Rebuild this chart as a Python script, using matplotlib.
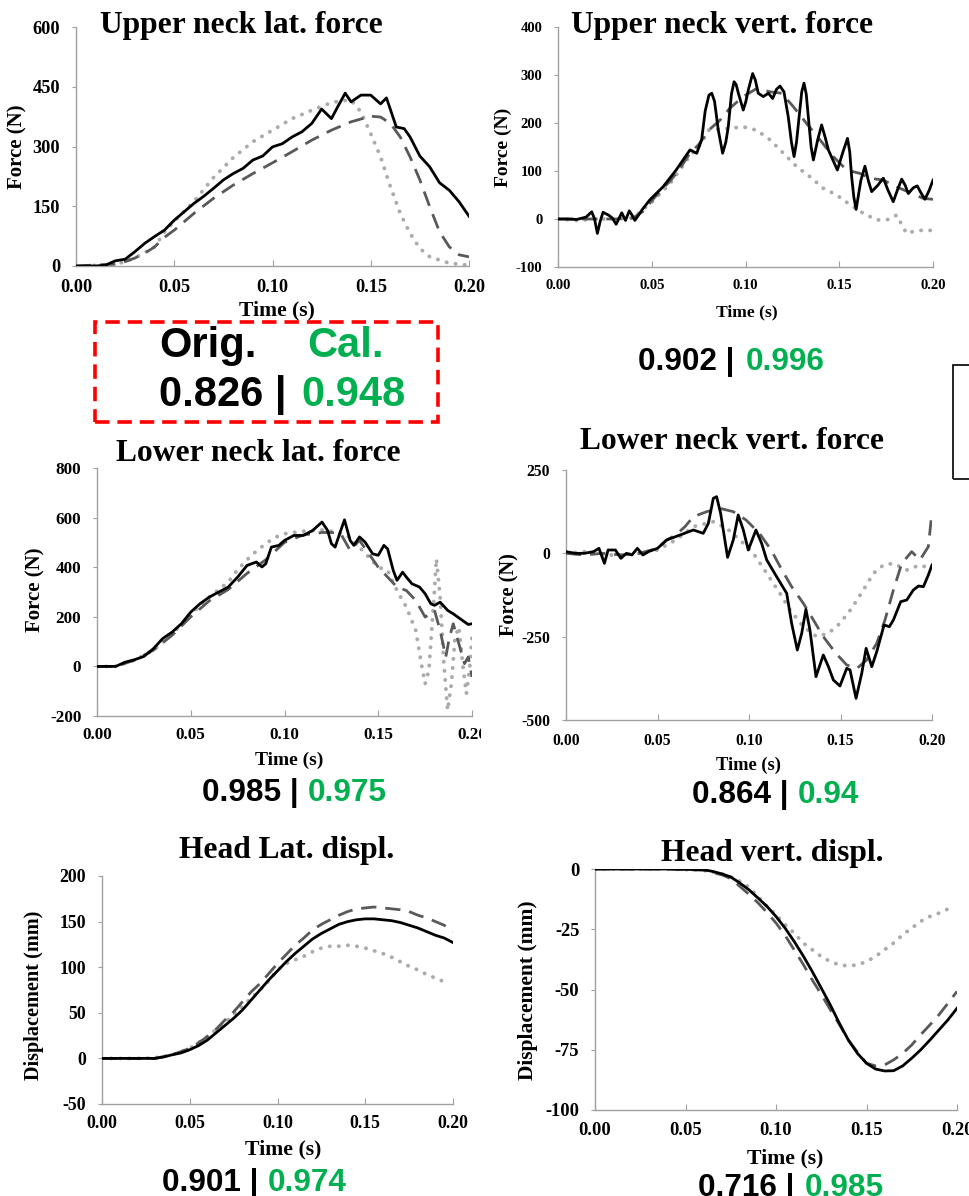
import matplotlib
matplotlib.use("Agg")
import matplotlib.pyplot as plt
from matplotlib.patches import Rectangle
from matplotlib.transforms import Bbox, TransformedBbox

W, H = 969, 1196

# ---------------- data ----------------
# Panel 1: Upper neck lat. force (N)
t1_exp = [0, .01, .015, .02, .025, .03, .035, .04, .045, .05, .055, .06, .065, .07, .075, .08, .085, .09, .095,
          .10, .105, .11, .115, .12, .125, .13, .133, .137, .14, .145, .15, .155, .158, .163, .167, .17, .175,
          .18, .185, .19, .195, .20]
v1_exp = [0, 0, 2, 13, 17, 36, 57, 74, 90, 115, 136, 157, 175, 195, 216, 232, 245, 266, 276,
          299, 307, 324, 337, 358, 394, 370, 398, 434, 412, 429, 429, 407, 422, 349, 345, 324, 276,
          249, 209, 190, 161, 125]
t1_cal = [0, .02, .025, .03, .035, .04, .045, .05, .06, .07, .08, .09, .10, .11, .12, .13, .14, .15, .155,
          .16, .165, .17, .175, .18, .185, .19, .195, .20]
v1_cal = [0, 5, 11, 20, 32, 48, 72, 90, 132, 170, 203, 232, 259, 287, 316, 341, 362, 376, 374,
          358, 324, 274, 216, 149, 86, 48, 28, 23]
t1_orig = [0, .02, .03, .04, .045, .05, .06, .07, .08, .09, .10, .11, .12, .13, .135, .14, .145, .15, .155,
           .16, .165, .17, .175, .18, .19, .20]
v1_orig = [0, 3, 20, 48, 85, 112, 162, 222, 272, 312, 341, 370, 391, 410, 415, 416, 387, 332, 274,
           199, 132, 82, 44, 23, 7, 2]

# Panel 2: Upper neck vert. force (N)
t2_exp = [0, .005, .01, .015, .018, .0195, .021, .0225, .024, .027, .029, .031, .033, .034, .036, .038,
          .0395, .041, .045, .049, .056, .063, .0704, .074, .0766, .0785, .0805, .082, .0835, .0855,
          .0878, .0895, .0908, .0925, .0939, .095, .0962, .0988, .1002, .1015, .1038, .1052, .1068,
          .1095, .1122, .1145, .1165, .1184, .1205, .1228, .1245, .1259, .1272, .1286, .130, .1312,
          .1324, .1335, .135, .1362, .1385, .1406, .1425, .1442, .149, .152, .1544, .1556, .1566,
          .1578, .159, .1615, .1637, .1655, .1673, .1705, .1735, .176, .1788, .181, .1833, .1852,
          .1868, .1895, .1916, .1935, .1957, .198, .20]
v2_exp = [0, 0, -1, 4, 15, 0, -30, -5, 14, 8, 2, -11, 5, 13, -3, 17,
          8, -3, 20, 40, 67, 102, 144, 137, 165, 225, 258, 262, 245, 185,
          137, 160, 192, 260, 286, 280, 262, 227, 245, 269, 303, 290, 262,
          255, 262, 251, 270, 277, 265, 213, 160, 130, 160, 213, 265, 283,
          260, 213, 150, 123, 165, 196, 170, 144, 102, 140, 168, 140, 88,
          45, 20, 80, 110, 80, 57, 70, 85, 60, 36, 60, 83, 70,
          53, 65, 69, 55, 41, 60, 81]
t2_cal = [0, .01, .02, .03, .04, .045, .05, .055, .06, .065, .07, .075, .0804, .0864, .0917, .0988, .106,
          .1131, .1193, .1255, .1326, .1397, .1468, .154, .161, .1664, .1735, .1806, .1877, .1948, .20]
v2_cal = [0, 0, 0, 0, 2, 15, 38, 60, 80, 105, 135, 155, 185, 206, 231, 255, 272,
          265, 262, 234, 199, 165, 130, 102, 95, 85, 81, 67, 55, 43, 41]
t2_orig = [0, .01, .02, .03, .04, .05, .06, .07, .075, .0804, .0917, .0988, .106, .1131, .1202, .1273,
           .1344, .1415, .1486, .1557, .1628, .170, .1762, .1806, .1859, .1895, .1948, .20]
v2_orig = [0, -3, 0, 0, 2, 35, 75, 130, 150, 185, 189, 192, 185, 165, 137, 109,
           88, 64, 50, 30, 12, -2, -1, 8, -30, -26, -23, -24]

# Panel 3: Lower neck lat. force (N)
t3_exp = [0, .005, .01, .015, .02, .025, .03, .035, .04, .045, .05, .055, .06, .065, .07, .075, .08, .085,
          .088, .09, .093, .097, .10, .105, .11, .115, .12, .123, .125, .127, .13, .132, .135, .137, .14,
          .143, .147, .15, .153, .155, .158, .16, .163, .165, .168, .172, .175, .178, .18, .183, .187,
          .19, .195, .198, .20]
v3_exp = [0, 0, 0, 17, 27, 40, 71, 112, 138, 172, 219, 253, 280, 300, 320, 360, 407, 421,
          401, 414, 481, 488, 508, 528, 528, 548, 582, 548, 495, 481, 548, 591, 508, 488, 522,
          501, 454, 448, 488, 474, 387, 347, 380, 360, 333, 320, 293, 253, 246, 259, 226,
          212, 185, 169, 172]
t3_cal = [0, .01, .02, .03, .04, .05, .06, .07, .08, .09, .10, .11, .12, .125, .13, .135, .14, .145, .15,
          .155, .16, .165, .17, .175, .18, .183, .186, .188, .19, .193, .196, .198, .20]
v3_cal = [0, 0, 25, 65, 125, 200, 265, 310, 375, 430, 500, 530, 540, 540, 535, 468, 508, 454, 400,
          360, 320, 306, 266, 199, 226, 145, 38, 118, 172, 91, 11, 38, -43]
t3_orig = [0, .01, .02, .03, .04, .05, .06, .07, .075, .08, .085, .09, .095, .10, .11, .12, .125, .13, .135,
           .14, .145, .15, .155, .16, .165, .17, .173, .175, .177, .18, .181, .183, .185, .187, .189, .191,
           .193, .195, .197, .199, .20]
v3_orig = [0, 0, 25, 65, 130, 210, 280, 340, 390, 430, 465, 495, 520, 535, 545, 550, 545, 535, 520,
           480, 440, 400, 387, 306, 239, 145, 11, -70, -16, 306, 434, 280, 11, -177, -70, 118,
           159, 11, -110, 11, 118]

# Panel 4: Lower neck vert. force (N)
t4_exp = [0, .005, .01, .015, .018, .021, .023, .027, .03, .033, .036, .039, .042, .045, .05, .055, .0623,
          .0696, .075, .0778, .0805, .0823, .0845, .0883, .0914, .0941, .0969, .0996, .1038, .1069, .1097,
          .1151, .1206, .1233, .1264, .1288, .1311, .1333, .1366, .1406, .1434, .1461, .1497, .1534,
          .1552, .1585, .1616, .164, .1671, .1698, .1738, .1767, .1789, .1829, .1862, .1898, .1926,
          .1953, .198, .20]
v4_exp = [5, 0, 0, 5, 15, -30, 10, 10, -15, 0, -5, 15, -5, 5, 15, 40, 55,
          70, 60, 90, 165, 170, 120, -12, 40, 115, 70, 10, 70, 30, -20,
          -70, -120, -210, -290, -240, -168, -230, -370, -305, -340, -380, -398, -345,
          -350, -435, -360, -285, -340, -295, -215, -220, -200, -145, -140, -110, -98,
          -100, -65, -35]
t4_cal = [0, .01, .02, .03, .04, .05, .055, .06, .065, .0696, .0769, .0841, .0914, .0984, .1057, .1121,
          .1175, .1233, .1297, .1352, .1406, .1475, .1534, .159, .1643, .1698, .1743, .1789, .1835,
          .1889, .1934, .198, .20]
v4_cal = [0, -5, 0, -5, 0, 15, 40, 55, 80, 110, 125, 135, 125, 100, 60, 10,
          -45, -100, -150, -200, -250, -300, -335, -345, -320, -270, -200, -110, -30,
          5, -20, 20, 125]
t4_orig = [0, .01, .02, .03, .04, .05, .06, .0696, .0805, .0878, .0951, .1024, .1097, .1169, .1224, .1297,
           .137, .1434, .1497, .1561, .1625, .168, .1735, .1789, .1862, .1934, .1989]
v4_orig = [0, 5, -5, -5, 0, 10, 40, 80, 95, 75, 40, 0, -60, -120, -170, -220,
           -250, -240, -210, -165, -110, -60, -35, -30, -50, -35, -45]

# Panel 5: Head lat. displacement (mm)
t5_exp = [0, .01, .02, .03, .035, .04, .045, .05, .055, .06, .065, .07, .075, .08, .085, .09, .095, .10,
          .105, .11, .115, .12, .125, .13, .135, .14, .145, .15, .155, .16, .165, .17, .175, .18, .185,
          .19, .195, .20]
v5_exp = [0, 0, 0, 0, 1.5, 4, 6, 9.5, 14, 20, 28, 36, 44, 53, 64, 75, 86, 96,
          106, 115, 123, 131, 137, 142, 147, 150, 152, 153, 153, 152, 151, 149, 146, 143, 139,
          135, 132, 127]
t5_cal = [0, .01, .02, .03, .04, .05, .055, .06, .065, .07, .075, .08, .085, .09, .095, .10, .105, .11,
          .115, .12, .125, .13, .135, .14, .145, .15, .155, .16, .165, .17, .175, .18, .185, .19, .195,
          .20]
v5_cal = [0, 0, 0, 0, 4, 11, 17, 24, 32, 42, 51, 62, 73, 82, 93, 104, 114, 124,
          132, 141, 147, 152, 157, 161, 164, 165, 166, 165, 164, 163, 161, 157, 154, 150, 146,
          139]
t5_orig = [0, .01, .02, .03, .04, .05, .06, .07, .08, .09, .095, .10, .105, .11, .115, .12, .125, .13,
           .135, .14, .145, .15, .155, .16, .165, .17, .175, .18, .185, .19, .195]
v5_orig = [0, 0, 0, 0.5, 4, 11, 24, 39, 57, 75, 85, 97, 104, 108, 112, 117, 121, 123,
           123, 124, 123, 121, 118, 115, 111, 106, 101, 97, 92, 88, 84]

# Panel 6: Head vert. displacement (mm)
t6_exp = [0, .02, .04, .06, .065, .07, .075, .08, .085, .09, .095, .10, .105, .11, .115, .12, .125, .13,
          .135, .14, .145, .15, .155, .16, .165, .17, .175, .18, .185, .19, .195, .20]
v6_exp = [0, 0, 0, -0.3, -1, -2, -3.3, -5.8, -8.6, -12, -15.5, -19.7, -24.5, -30, -36, -42.5, -49.4, -56.4,
          -64, -71, -76.5, -80.6, -83, -83.8, -83.7, -81.7, -78.5, -75, -71, -66.8, -62.6, -57.8]
t6_cal = [0, .02, .04, .06, .065, .07, .075, .08, .085, .09, .095, .10, .105, .11, .115, .12, .125, .13,
          .135, .14, .145, .15, .155, .16, .165, .17, .175, .18, .185, .19, .195, .20]
v6_cal = [0, 0, 0, -0.5, -1.5, -2.4, -4, -7.2, -10.5, -14, -18, -22.4, -27.5, -33.5, -39.5, -46, -52, -58.4,
          -64.5, -71, -76, -80.6, -81.7, -81.3, -79.2, -76.5, -73, -68.7, -64.7, -60.5, -55.7, -50.8]
t6_orig = [0, .02, .04, .06, .07, .075, .08, .085, .09, .095, .10, .105, .11, .115, .12, .125, .13, .135,
           .14, .145, .15, .155, .16, .165, .17, .175, .18, .185, .19, .195]
v6_orig = [0, 0, 0, -0.5, -2, -3.3, -5.1, -7.5, -11.4, -15.5, -19, -23.1, -26.6, -30.7, -33.5, -36.3, -38.4, -39.8,
           -40.2, -39.8, -38.4, -36.3, -33.5, -30.7, -27.3, -24.5, -21.7, -19.7, -18.3, -16.6]

titles = ["Upper neck lat. force", "Upper neck vert. force", "Lower neck lat. force",
          "Lower neck vert. force", "Head Lat. displ.", "Head vert. displ."]
ylabels = ["Force (N)", "Force (N)", "Force (N)", "Force (N)", "Displacement (mm)", "Displacement (mm)"]
xlabel = "Time (s)"
xticks = [0.0, 0.05, 0.10, 0.15, 0.20]
xticklabels = ["0.00", "0.05", "0.10", "0.15", "0.20"]
yticks_all = [[0, 150, 300, 450, 600],
              [-100, 0, 100, 200, 300, 400],
              [-200, 0, 200, 400, 600, 800],
              [-500, -250, 0, 250],
              [-50, 0, 50, 100, 150, 200],
              [-100, -75, -50, -25, 0]]
orig_scores = ["0.826", "0.902", "0.985", "0.864", "0.901", "0.716"]
cal_scores = ["0.948", "0.996", "0.975", "0.94", "0.974", "0.985"]

series = [
    ((t1_exp, v1_exp), (t1_cal, v1_cal), (t1_orig, v1_orig)),
    ((t2_exp, v2_exp), (t2_cal, v2_cal), (t2_orig, v2_orig)),
    ((t3_exp, v3_exp), (t3_cal, v3_cal), (t3_orig, v3_orig)),
    ((t4_exp, v4_exp), (t4_cal, v4_cal), (t4_orig, v4_orig)),
    ((t5_exp, v5_exp), (t5_cal, v5_cal), (t5_orig, v5_orig)),
    ((t6_exp, v6_exp), (t6_cal, v6_cal), (t6_orig, v6_orig)),
]

# ---------------- layout (pixels) ----------------
axes_px = [(76, 27, 469, 266), (558, 27, 933, 267), (97, 468, 472, 716),
           (566, 470, 932, 720), (102, 876, 453, 1104), (595, 869, 957, 1110)]
tick_fs = [13.2, 10.5, 12.3, 11.3, 12.8, 13.3]
xpad = [9.4, 8.7, 7.9, 9.4, 8.0, 8.6]
title_pos = [(241, 33), (722, 33), (258, 461), (732, 449), (287, 858), (772, 861)]
xlabel_pos = [(277, 310, 15.6), (747, 312, 12.6), (289, 760, 14.0), (748, 765, 13.3),
              (283, 1149, 15.7), (785, 1158, 15.7)]
ylabel_pos = [(17, 147, 15.0), (503, 147, 14.0), (35, 590, 15.0), (509, 595, 14.7),
              (34, 995, 14.6), (528, 990, 15.5)]
# (black left x, green left x, center y)
score_pos = [None, (638, 746, 362), (202, 308, 793), (692, 798, 795), (162, 268, 1183), (698, 805, 1188)]

SERIF = "Liberation Serif"
SANS = "Liberation Sans"
GREEN = "#00B050"

fig = plt.figure(figsize=(W / 100, H / 100), dpi=100)
fig.patch.set_facecolor("white")


def fx(x):
    return x / W


def fy(y):
    return 1 - y / H


for i, (l, t, r, b) in enumerate(axes_px):
    ax = fig.add_axes([fx(l), fy(b), (r - l) / W, (b - t) / H])
    (te, ve), (tc, vc), (to, vo) = series[i]
    ax.plot(to, vo, color="#ababab", lw=2.8, ls=(0, (0.05, 2.3)), dash_capstyle="round",
            solid_joinstyle="round", zorder=2)
    ax.plot(tc, vc, color="#595959", lw=2.0, ls=(0, (5.5, 3.2)), zorder=3)
    ax.plot(te, ve, color="black", lw=2.0, solid_joinstyle="round", zorder=4)
    yt = yticks_all[i]
    ax.set_xlim(0, 0.2)
    ax.set_ylim(yt[0], yt[-1])
    ax.set_xticks(xticks)
    ax.set_xticklabels(xticklabels)
    ax.set_yticks(yt)
    ax.set_yticklabels([str(v) for v in yt])
    for s in ["top", "right"]:
        ax.spines[s].set_visible(False)
    for s in ["left", "bottom"]:
        ax.spines[s].set_color("#a0a0a0")
        ax.spines[s].set_linewidth(1.0)
    ax.tick_params(axis="x", direction="in", length=4, width=0.8, color="#a0a0a0", pad=xpad[i])
    ax.tick_params(axis="y", direction="out", length=3, width=0.8, color="#a0a0a0", pad=8.3)
    for lab in ax.get_xticklabels() + ax.get_yticklabels():
        lab.set_fontfamily(SERIF)
        lab.set_fontweight("bold")
        lab.set_fontsize(tick_fs[i])
    if i == 2:
        clip = TransformedBbox(Bbox([[0, 0], [481 / W, 1]]), fig.transFigure)
        for lab in ax.get_xticklabels():
            lab.set_clip_box(clip)
            lab.set_clip_on(True)
    ax.patch.set_alpha(0)

    tx, ty = title_pos[i]
    fig.text(fx(tx), fy(ty), titles[i], ha="center", va="baseline", family=SERIF,
             weight="bold", fontsize=22.7)
    xx, xy, xs = xlabel_pos[i]
    fig.text(fx(xx), fy(xy), xlabel, ha="center", va="center", family=SERIF, weight="bold", fontsize=xs)
    yx, yy, ys = ylabel_pos[i]
    fig.text(fx(yx), fy(yy), ylabels[i], ha="center", va="center", rotation=90, family=SERIF,
             weight="bold", fontsize=ys)
    if score_pos[i] is not None:
        bx, gx, sy = score_pos[i]
        fig.text(fx(bx), fy(sy), orig_scores[i] + " |", ha="left", va="center", family=SANS,
                 weight="bold", fontsize=22.7, color="black")
        fig.text(fx(gx), fy(sy), cal_scores[i], ha="left", va="center", family=SANS,
                 weight="bold", fontsize=22.7, color=GREEN)

# Highlighted box for the first panel
fig.text(fx(159), fy(346), "Orig.", ha="left", va="center", family=SANS, weight="bold",
         fontsize=30, color="black")
fig.text(fx(307), fy(346), "Cal.", ha="left", va="center", family=SANS, weight="bold",
         fontsize=30, color=GREEN)
fig.text(fx(159), fy(395), orig_scores[0] + " |", ha="left", va="center", family=SANS, weight="bold",
         fontsize=30, color="black")
fig.text(fx(301), fy(395), cal_scores[0], ha="left", va="center", family=SANS, weight="bold",
         fontsize=30, color=GREEN)
fig.patches.append(Rectangle((fx(95), fy(422)), (438 - 95) / W, (422 - 322) / H,
                             transform=fig.transFigure, fill=False, edgecolor="#ff0000",
                             lw=2.6, ls=(0, (4, 2.2))))
# partial frame at the right edge
fig.patches.append(Rectangle((fx(953), fy(479)), 40 / W, (479 - 365) / H,
                             transform=fig.transFigure, fill=False, edgecolor="black", lw=1.2))

fig.savefig("out.png", dpi=100, facecolor="white")
